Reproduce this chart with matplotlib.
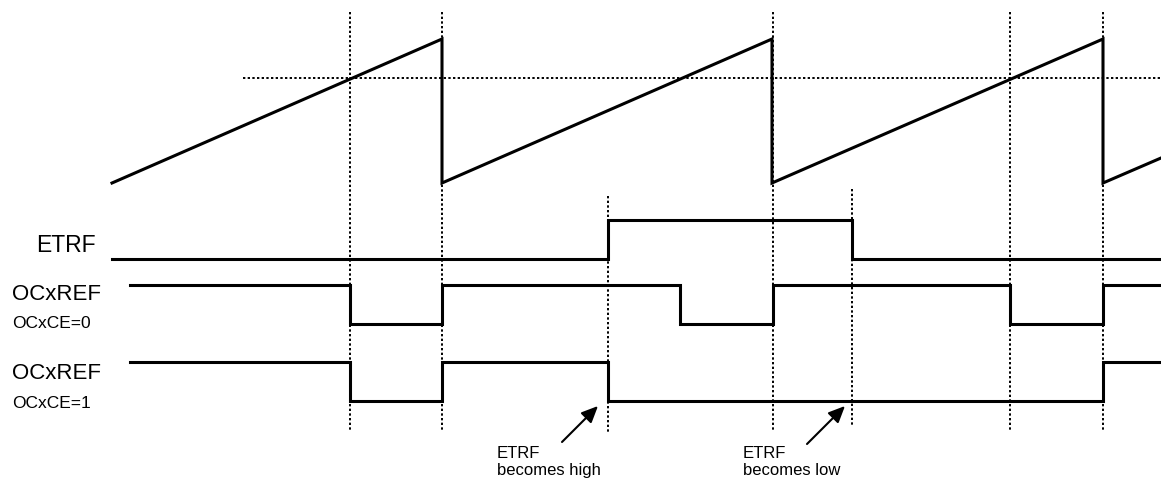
import matplotlib.pyplot as plt

plt.rcParams['font.family'] = ['Liberation Sans', 'DejaVu Sans']

# counter sawtooth (x, y) in drawing units (y grows downward)
saw_x = [112, 442, 442, 772, 772, 1103, 1103, 1161]
saw_y = [184, 40, 184, 40, 184, 40, 184, 159]
threshold_y = 79
threshold_x0 = 243

# ETRF input
etrf_x = [112, 608, 608, 852, 852, 1161]
etrf_y = [260, 260, 221, 221, 260, 260]

# OCxREF with OCxCE=0
ref0_x = [130, 350, 350, 442, 442, 680, 680, 773, 773, 1010, 1010, 1103, 1103, 1161]
ref0_y = [286, 286, 325, 325, 286, 286, 325, 325, 286, 286, 325, 325, 286, 286]

# OCxREF with OCxCE=1
ref1_x = [130, 350, 350, 442, 442, 608, 608, 1103, 1103, 1161]
ref1_y = [363, 363, 402, 402, 363, 363, 402, 402, 363, 363]

# vertical guides: x, top, bottom
guide_x = [350, 442, 608, 773, 852, 1010, 1103]
guide_top = [13, 13, 197, 13, 190, 13, 13]
guide_bot = [432, 432, 433, 432, 427, 432, 432]

# signal labels: text, x, baseline, size
labels = ['ETRF', 'OCxREF', 'OCxCE=0', 'OCxREF', 'OCxCE=1']
label_x = [36, 12, 12, 12, 12]
label_base = [252, 300, 328, 379, 408]
label_size = [16.5, 16, 12.5, 16, 12.5]

fig = plt.figure(figsize=(11.61, 4.81), dpi=100)
ax = fig.add_axes([0, 0, 1, 1])
ax.set_xlim(0, 1161)
ax.set_ylim(481, 0)
ax.axis('off')

dot = dict(color='black', lw=1.4, linestyle=(0, (1.2, 1.2)))
for x, t, b in zip(guide_x, guide_top, guide_bot):
    ax.plot([x, x], [t, b], **dot)
ax.plot([threshold_x0, 1161], [threshold_y, threshold_y], **dot)

solid = dict(color='black', lw=2.2, solid_joinstyle='miter')
ax.plot(saw_x, saw_y, **solid)
ax.plot(etrf_x, etrf_y, **solid)
ax.plot(ref0_x, ref0_y, **solid)
ax.plot(ref1_x, ref1_y, **solid)

for s, x, y, fs in zip(labels, label_x, label_base, label_size):
    ax.text(x, y, s, fontsize=fs, va='baseline', ha='left')

arrow = dict(arrowstyle='-|>,head_length=1.0,head_width=0.45', color='black', lw=1.5,
             shrinkA=0, shrinkB=0)
ax.annotate('', xy=(598, 407), xytext=(562, 443), arrowprops=arrow)
ax.annotate('', xy=(845, 407), xytext=(807, 445), arrowprops=arrow)

for x, second in [(497, 'becomes high'), (743, 'becomes low')]:
    ax.text(x, 458, 'ETRF', fontsize=12, va='baseline', ha='left')
    ax.text(x, 475, second, fontsize=12, va='baseline', ha='left')

fig.savefig('out.png', dpi=100)
